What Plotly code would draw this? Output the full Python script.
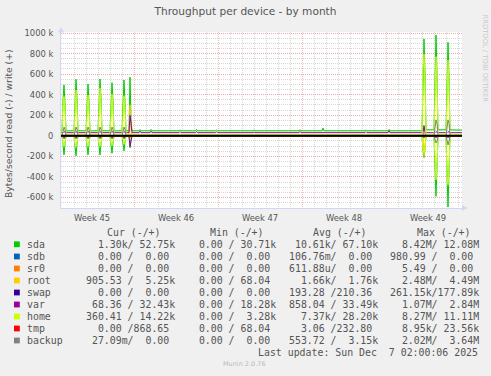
import plotly.graph_objects as go

# ---------------- data (values in k bytes/s) ----------------
times = [
    "2025-11-03 22:00",
    "2025-11-04 00:00", "2025-11-04 02:00", "2025-11-04 04:00", "2025-11-04 06:00", "2025-11-04 08:00",
    "2025-11-05 00:00", "2025-11-05 02:00", "2025-11-05 04:00", "2025-11-05 06:00", "2025-11-05 08:00",
    "2025-11-06 00:00", "2025-11-06 02:00", "2025-11-06 04:00", "2025-11-06 06:00", "2025-11-06 08:00",
    "2025-11-07 00:00", "2025-11-07 02:00", "2025-11-07 04:00", "2025-11-07 06:00", "2025-11-07 08:00",
    "2025-11-08 00:00", "2025-11-08 02:00", "2025-11-08 04:00", "2025-11-08 06:00", "2025-11-08 08:00",
    "2025-11-09 00:00", "2025-11-09 02:00", "2025-11-09 04:00", "2025-11-09 06:00", "2025-11-09 08:00",
    "2025-11-09 14:00", "2025-11-09 16:00", "2025-11-09 18:00", "2025-11-09 20:00",
    "2025-11-10 10:00", "2025-11-10 12:00", "2025-11-10 14:00",
    "2025-11-11 08:00", "2025-11-11 10:00", "2025-11-11 12:00",
    "2025-11-13 18:00", "2025-11-13 20:00", "2025-11-13 22:00",
    "2025-11-15 03:00", "2025-11-15 05:00", "2025-11-15 07:00",
    "2025-11-16 19:00", "2025-11-16 21:00", "2025-11-16 23:00",
    "2025-11-19 22:00", "2025-11-20 00:00", "2025-11-20 02:00",
    "2025-11-23 18:00", "2025-11-23 20:00", "2025-11-23 22:00",
    "2025-11-25 16:00", "2025-11-25 18:00", "2025-11-25 20:00",
    "2025-11-29 06:00", "2025-11-29 08:00", "2025-11-29 10:00",
    "2025-12-01 04:00", "2025-12-01 06:00", "2025-12-01 08:00",
    "2025-12-04 00:00", "2025-12-04 02:00", "2025-12-04 04:00", "2025-12-04 06:00", "2025-12-04 08:00",
    "2025-12-05 00:00", "2025-12-05 02:00", "2025-12-05 04:00", "2025-12-05 06:00", "2025-12-05 08:00",
    "2025-12-06 00:00", "2025-12-06 02:00", "2025-12-06 04:00", "2025-12-06 06:00", "2025-12-06 08:00",
    "2025-12-07 08:00",
]

sda_write = [
    48,
    48, 350, 495, 312, 48,
    48, 402, 550, 357, 48,
    48, 363, 504, 323, 48,
    48, 417, 553, 371, 48,
    48, 371, 517, 330, 48,
    48, 355, 543, 317, 48,
    48, 570, 160, 48,
    48, 60, 48, 48, 62, 48, 48, 58, 48, 48, 62, 48, 48, 55, 48,
    48, 58, 48, 48, 60, 48, 48, 75, 48, 48, 58, 48, 48, 62, 48,
    48, 684, 942, 604, 58,
    58, 664, 980, 587, 58,
    58, 638, 910, 564, 58,
    55,
]
sda_read = [
    -1.5,
    -1.5, -87, -186, -76, -1.5,
    -1.5, -91, -195, -80, -1.5,
    -1.5, -87, -186, -76, -1.5,
    -1.5, -87, -186, -76, -1.5,
    -1.5, -80, -170, -71, -1.5,
    -1.5, -70, -147, -62, -1.5,
    -1.5, -117, -40, -1.5,
    -1.5, -6, -1.5, -1.5, -6, -1.5, -1.5, -6, -1.5, -1.5, -6, -1.5, -1.5, -6, -1.5,
    -1.5, -6, -1.5, -1.5, -6, -1.5, -1.5, -6, -1.5, -1.5, -6, -1.5, -1.5, -6, -1.5,
    -1.5, -140, -212, -123, -1.5,
    -1.5, -347, -590, -305, -1.5,
    -1.5, -387, -694, -339, -1.5,
    -1.5,
]
home_write = [
    14,
    14, 305, 381, 267, 14,
    14, 357, 446, 312, 14,
    14, 318, 397, 278, 14,
    14, 372, 465, 326, 14,
    14, 326, 407, 285, 14,
    14, 310, 388, 272, 14,
    14, 14, 14, 14,
    14, 14, 14, 14, 14, 14, 14, 14, 14, 14, 14, 14, 14, 14, 14,
    14, 14, 14, 14, 14, 14, 14, 14, 14, 14, 14, 14, 14, 14, 14,
    14, 636, 795, 556, 14,
    14, 616, 770, 539, 14,
    14, 590, 737, 516, 14,
    14,
]
home_read = [
    -0.5,
    -0.5, -82, -102, -71, -0.5,
    -0.5, -86, -107, -75, -0.5,
    -0.5, -82, -102, -71, -0.5,
    -0.5, -82, -102, -71, -0.5,
    -0.5, -75, -94, -66, -0.5,
    -0.5, -65, -81, -57, -0.5,
    -0.5, -0.5, -0.5, -0.5,
    -0.5, -0.5, -0.5, -0.5, -0.5, -0.5, -0.5, -0.5, -0.5, -0.5, -0.5, -0.5, -0.5, -0.5, -0.5,
    -0.5, -0.5, -0.5, -0.5, -0.5, -0.5, -0.5, -0.5, -0.5, -0.5, -0.5, -0.5, -0.5, -0.5, -0.5,
    -0.5, -135, -169, -118, -0.5,
    -0.5, -342, -428, -300, -0.5,
    -0.5, -382, -477, -334, -0.5,
    -0.5,
]
root_write = [
    5,
    5, 5, 5, 5, 5,
    5, 5, 5, 5, 5,
    5, 5, 5, 5, 5,
    5, 5, 5, 5, 5,
    5, 5, 5, 5, 5,
    5, 5, 5, 5, 5,
    5, 300, 40, 5,
    5, 5, 5, 5, 5, 5, 5, 5, 5, 5, 5, 5, 5, 5, 5,
    5, 5, 5, 5, 5, 5, 5, 5, 5, 5, 5, 5, 5, 5, 5,
    5, 5, 5, 5, 5,
    5, 5, 5, 5, 5,
    5, 5, 5, 5, 5,
    5,
]
root_read = [
    -1,
    -1, -1, -1, -1, -1,
    -1, -1, -1, -1, -1,
    -1, -1, -1, -1, -1,
    -1, -1, -1, -1, -1,
    -1, -1, -1, -1, -1,
    -1, -1, -1, -1, -1,
    -1, -30, -1, -1,
    -1, -1, -1, -1, -1, -1, -1, -1, -1, -1, -1, -1, -1, -1, -1,
    -1, -1, -1, -1, -1, -1, -1, -1, -1, -1, -1, -1, -1, -1, -1,
    -1, -1, -200, -60, -1,
    -1, -1, -1, -1, -1,
    -1, -1, -1, -1, -1,
    -1,
]
var_write = [
    30,
    30, 30, 40, 30, 30,
    30, 30, 40, 30, 30,
    30, 30, 40, 30, 30,
    30, 30, 40, 30, 30,
    30, 30, 40, 30, 30,
    30, 30, 40, 30, 30,
    30, 200, 120, 30,
    30, 45, 30, 30, 45, 30, 30, 40, 30, 30, 42, 30, 30, 40, 30,
    30, 38, 30, 30, 42, 30, 30, 35, 30, 30, 40, 30, 30, 50, 30,
    30, 30, 100, 30, 30,
    30, 30, 40, 30, 30,
    30, 30, 40, 30, 30,
    30,
]
var_read = [
    -0.5,
    -0.5, -0.5, -25, -0.5, -0.5,
    -0.5, -0.5, -25, -0.5, -0.5,
    -0.5, -0.5, -25, -0.5, -0.5,
    -0.5, -0.5, -25, -0.5, -0.5,
    -0.5, -0.5, -25, -0.5, -0.5,
    -0.5, -0.5, -25, -0.5, -0.5,
    -0.5, -105, -30, -0.5,
    -0.5, -0.5, -0.5, -0.5, -0.5, -0.5, -0.5, -0.5, -0.5, -0.5, -0.5, -0.5, -0.5, -0.5, -0.5,
    -0.5, -0.5, -0.5, -0.5, -0.5, -0.5, -0.5, -0.5, -0.5, -0.5, -0.5, -0.5, -0.5, -0.5, -0.5,
    -0.5, -0.5, -20, -0.5, -0.5,
    -0.5, -0.5, -20, -0.5, -0.5,
    -0.5, -0.5, -20, -0.5, -0.5,
    -0.5,
]
backup_write = [
    0,
    0, 40, 85, 60, 0,
    0, 40, 85, 60, 0,
    0, 40, 85, 60, 0,
    0, 40, 85, 60, 0,
    0, 40, 85, 60, 0,
    0, 40, 85, 60, 0,
    0, 0, 0, 0,
    0, 0, 0, 0, 0, 0, 0, 0, 0, 0, 0, 0, 0, 0, 0,
    0, 0, 0, 0, 0, 0, 0, 0, 0, 0, 0, 0, 0, 0, 0,
    0, 10, 30, 20, 0,
    0, 100, 155, 120, 0,
    0, 100, 155, 120, 0,
    0,
]
backup_read = [
    0,
    0, -10, -30, -20, 0,
    0, -10, -30, -20, 0,
    0, -10, -30, -20, 0,
    0, -10, -30, -20, 0,
    0, -10, -30, -20, 0,
    0, -10, -30, -20, 0,
    0, 0, 0, 0,
    0, 0, 0, 0, 0, 0, 0, 0, 0, 0, 0, 0, 0, 0, 0,
    0, 0, 0, 0, 0, 0, 0, 0, 0, 0, 0, 0, 0, 0, 0,
    0, 0, -10, 0, 0,
    0, -40, -70, -50, 0,
    0, -40, -90, -50, 0,
    0,
]
flat_times = ["2025-11-03 22:00", "2025-12-07 08:00"]
sdb_write, sdb_read = [0, 0], [0, 0]
sr0_write, sr0_read = [0, 0], [0, 0]
swap_write, swap_read = [0, 0], [0, 0]
tmp_write, tmp_read = [0.87, 0.87], [0, 0]

# legend table
dev_names = ["sda", "sdb", "sr0", "root", "swap", "var", "home", "tmp", "backup"]
dev_colors = ["#00CC00", "#0066B3", "#FF8000", "#FFCC00", "#330099",
              "#990099", "#CCFF00", "#FF0000", "#808080"]
cur_txt = ["  1.30k/ 52.75k", "  0.00 /  0.00 ", "  0.00 /  0.00 ", "905.53 /  5.25k",
           "  0.00 /  0.00 ", " 68.36 / 32.43k", "360.41 / 14.22k", "  0.00 /868.65 ",
           " 27.09m/  0.00 "]
min_txt = ["  0.00 / 30.71k", "  0.00 /  0.00 ", "  0.00 /  0.00 ", "  0.00 / 68.04 ",
           "  0.00 /  0.00 ", "  0.00 / 18.28k", "  0.00 /  3.28k", "  0.00 / 68.04 ",
           "  0.00 /  0.00 "]
avg_txt = [" 10.61k/ 67.10k", "106.76m/  0.00 ", "611.88u/  0.00 ", "  1.66k/  1.76k",
           "193.28 /210.36 ", "858.04 / 33.49k", "  7.37k/ 28.20k", "  3.06 /232.80 ",
           "553.72 /  3.15k"]
max_txt = ["  8.42M/ 12.08M", "980.99 /  0.00 ", "  5.49 /  0.00 ", "  2.48M/  4.49M",
           "261.15k/177.89k", "  1.07M/  2.84M", "  8.27M/ 11.11M", "  8.95k/ 23.56k",
           "  2.02M/  3.64M"]
col_heads = ["Cur (-/+)", "Min (-/+)", "Avg (-/+)", "Max (-/+)"]

ytick_vals = [-600, -400, -200, 0, 200, 400, 600, 800, 1000]
ytick_text = ["-600 k", "-400 k", "-200 k", "0", "200 k", "400 k", "600 k", "800 k", "1000 k"]

# ---------------- layout helpers ----------------
W, H = 491, 376
L, R, T, B = 61, 29, 32, 168
PW = W - L - R
PH = H - T - B


def px(x):
    return (x - L) / PW


def py(y):
    return (H - B - y) / PH


FONT_COL = "#555555"
MONO = "DejaVu Sans Mono"
SANS = "DejaVu Sans"

fig = go.Figure()

series = [
    ("sda", times, sda_write, sda_read),
    ("sdb", flat_times, sdb_write, sdb_read),
    ("sr0", flat_times, sr0_write, sr0_read),
    ("root", times, root_write, root_read),
    ("swap", flat_times, swap_write, swap_read),
    ("var", times, var_write, var_read),
    ("home", times, home_write, home_read),
    ("tmp", flat_times, tmp_write, tmp_read),
    ("backup", times, backup_write, backup_read),
]
for (name, tx, wv, rv), col in zip(series, dev_colors):
    fig.add_trace(go.Scatter(x=tx, y=[v * 1000 for v in rv], mode="lines",
                             line=dict(color=col, width=1), name=name + " read",
                             showlegend=False, hoverinfo="skip"))
    fig.add_trace(go.Scatter(x=tx, y=[v * 1000 for v in wv], mode="lines",
                             line=dict(color=col, width=1), name=name,
                             showlegend=False, hoverinfo="skip"))

GRID_MINOR = "rgba(200,200,200,0.75)"
GRID_MAJOR = "rgba(245,150,150,0.7)"
AXIS_COL = "#CFD6F8"

fig.update_xaxes(
    type="date",
    range=["2025-11-03 22:00", "2025-12-07 08:00"],
    tick0="2025-11-03", dtick=604800000,
    ticklabelmode="period", tickformat="Week %V",
    showgrid=True, gridcolor=GRID_MAJOR, griddash="1px,1px", gridwidth=1,
    minor=dict(dtick=86400000, tick0="2025-11-03", showgrid=True,
               gridcolor=GRID_MINOR, griddash="1px,1px", gridwidth=1),
    showline=True, linecolor=AXIS_COL, linewidth=1,
    ticks="", ticklabelstandoff=2,
    tickfont=dict(family=SANS, size=8.4, color=FONT_COL),
    zeroline=False,
)
fig.update_yaxes(
    range=[-703000, 1010000],
    tickmode="array", tickvals=[v * 1000 for v in ytick_vals], ticktext=ytick_text,
    showgrid=True, gridcolor=GRID_MAJOR, griddash="1px,1px", gridwidth=1,
    minor=dict(dtick=50000, tick0=0, showgrid=True,
               gridcolor=GRID_MINOR, griddash="1px,1px", gridwidth=1),
    showline=True, linecolor=AXIS_COL, linewidth=1,
    ticks="", ticklabelstandoff=5,
    tickfont=dict(family=SANS, size=8.4, color=FONT_COL),
    zeroline=False,
)

annotations = []


def txt(x, y, s, size, color=FONT_COL, family=MONO, xanchor="left", angle=0):
    annotations.append(dict(
        x=px(x), y=py(y), xref="paper", yref="paper",
        text=s.replace(" ", "\u00a0"), showarrow=False,
        xanchor=xanchor, yanchor="middle", textangle=angle,
        borderpad=0, borderwidth=0,
        font=dict(family=family, size=size, color=color)))


# y axis title
txt(8.5, 124.5, "Bytes/second read (-) / write (+)", 9.2, family=SANS,
    xanchor="center", angle=-90)
# rrdtool watermark
txt(484, 58.5, "RRDTOOL / TOBI OETIKER", 6.8, color="#C8C8C8", family=SANS,
    xanchor="center", angle=90)

# legend table
LEG_SIZE = 9.9
head_x = [106.7, 210, 313.3, 416.7]
for hx, ht in zip(head_x, col_heads):
    txt(hx, 232.3, ht, LEG_SIZE)
row_y = [244.3, 256.5, 268.5, 280.5, 292.5, 304.5, 316.5, 328.5, 340.5]
col_x = [86.0, 187.4, 288.7, 389.5]
shapes = []
for i, name in enumerate(dev_names):
    y = row_y[i]
    shapes.append(dict(type="rect", xref="paper", yref="paper",
                       x0=px(14), x1=px(19.8), y0=py(y + 2.9), y1=py(y - 2.9),
                       fillcolor=dev_colors[i], line=dict(width=0)))
    txt(26.7, y, name, LEG_SIZE)
    for cx, col in zip(col_x, [cur_txt, min_txt, avg_txt, max_txt]):
        txt(cx, y, col[i], LEG_SIZE)

txt(477.5, 352.3, "Last update: Sun Dec  7 02:00:06 2025", LEG_SIZE, xanchor="right")
txt(244.8, 364, "Munin 2.0.76", 6.5, color="#BBBBBB", family=SANS, xanchor="center")

# zero line (drawn on top, as in the munin graph)
shapes.append(dict(type="line", xref="paper", yref="y", x0=0, x1=1, y0=0, y1=0,
                   line=dict(color="#000000", width=2), layer="above"))
# axis arrows
shapes.append(dict(type="path", xref="paper", yref="paper",
                   path="M {} {} L {} {} L {} {} Z".format(px(58), py(32.5), px(61), py(27), px(64), py(32.5)),
                   fillcolor=AXIS_COL, line=dict(width=0)))
shapes.append(dict(type="path", xref="paper", yref="paper",
                   path="M {} {} L {} {} L {} {} Z".format(px(462), py(205), px(467.5), py(208), px(462), py(211)),
                   fillcolor=AXIS_COL, line=dict(width=0)))

fig.update_layout(
    width=W, height=H,
    margin=dict(l=L, r=R, t=T, b=B, pad=0),
    paper_bgcolor="#F0F0F0", plot_bgcolor="#FFFFFF",
    showlegend=False,
    title=dict(text="Throughput per device - by month", x=0.5, xref="container",
               xanchor="center", y=1 - 11.7 / H, yref="container", yanchor="middle",
               font=dict(family=SANS, size=10.6, color=FONT_COL)),
    annotations=annotations,
    shapes=shapes,
)

fig.write_html("out.html")
